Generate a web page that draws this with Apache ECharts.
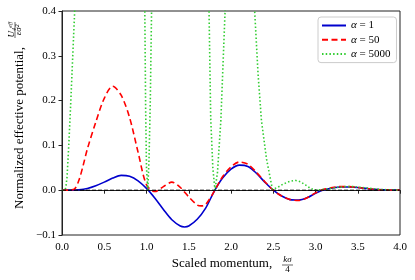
<!DOCTYPE html>
<html>
<head>
<meta charset="utf-8">
<script src="https://cdn.jsdelivr.net/npm/echarts@6/dist/echarts.min.js"></script>
<style>html,body{margin:0;padding:0;background:#fff;}#c{width:415px;height:280px;}</style>
</head>
<body>
<div id="c"></div>
<script>
// ---- data ----
const kAlpha1 = [0,0.1,0.2,0.3,0.4,0.5,0.6,0.7,0.8,0.9,1.0,1.1,1.2,1.3,1.4,1.45,1.5,1.6,1.7,1.8,1.9,2.0,2.1,2.2,2.3,2.4,2.5,2.6,2.7,2.8,2.9,3.0,3.1,3.2,3.3,3.4,3.5,3.6,3.7,3.8,3.9,4.0];
const uAlpha1 = [0,0.0001,0.001,0.004,0.010,0.018,0.027,0.033,0.031,0.021,0.004,-0.018,-0.043,-0.066,-0.080,-0.082,-0.080,-0.065,-0.040,-0.003,0.027,0.047,0.056,0.053,0.038,0.018,0.000,-0.013,-0.021,-0.022,-0.017,-0.007,0.001,0.005,0.007,0.007,0.006,0.004,0.002,0.001,0.0005,0.0003];

const kAlpha50 = [0,0.1,0.15,0.2,0.25,0.3,0.4,0.5,0.6,0.7,0.8,0.9,1.0,1.1,1.2,1.3,1.4,1.5,1.6,1.65,1.7,1.8,1.9,2.0,2.1,2.2,2.3,2.4,2.5,2.6,2.7,2.8,2.9,3.0,3.1,3.2,3.3,3.4,3.5,3.6,3.7,3.8,3.9,4.0];
const uAlpha50 = [0,0.0005,0.003,0.022,0.055,0.092,0.152,0.205,0.232,0.212,0.162,0.085,0.012,-0.003,0.008,0.018,0.006,-0.015,-0.033,-0.035,-0.032,-0.003,0.030,0.052,0.063,0.058,0.040,0.019,0.000,-0.013,-0.021,-0.023,-0.017,-0.006,0.002,0.006,0.008,0.008,0.006,0.004,0.002,0.001,0.0005,0.0003];

const kAlpha5000 = [0,0.03,0.045,0.06,0.08,0.1,0.125,0.15,0.18,0.25,0.5,0.8,0.9,0.95,0.97,0.98,0.99,1.0,1.015,1.03,1.045,1.06,1.08,1.12,1.3,1.5,1.65,1.7,1.74,1.76,1.785,1.81,1.84,1.88,1.93,1.96,2.0,2.1,2.2,2.25,2.28,2.32,2.36,2.42,2.49,2.55,2.62,2.7,2.76,2.82,2.88,2.94,2.98,3.05,3.15,3.25,3.35,3.45,3.55,3.65,3.75,3.85,4.0];
const uAlpha5000 = [0,0,0.005,0.03,0.1,0.18,0.29,0.40,0.58,1.2,2.0,1.8,1.2,0.8,0.55,0.4,0.18,0.05,0.0,0.07,0.2,0.4,0.68,1.2,2.0,1.8,1.1,0.8,0.4,0.16,0.05,0.0,0.04,0.156,0.4,0.58,0.85,1.2,0.9,0.6,0.4,0.26,0.156,0.07,0.002,0.006,0.014,0.02,0.022,0.019,0.012,0.004,0.001,0.001,0.003,0.006,0.008,0.008,0.006,0.004,0.002,0.001,0.0003];

const zeroLineK = [0, 4];
const zeroLineU = [0, 0];

const seriesNames = ['\u03b1 = 1', '\u03b1 = 50', '\u03b1 = 5000'];
const xTicks = [0, 0.5, 1.0, 1.5, 2.0, 2.5, 3.0, 3.5, 4.0];
const yTicks = [-0.1, 0.0, 0.1, 0.2, 0.3, 0.4];

// ---- chart ----
const FONT = '"Liberation Serif", "Times New Roman", serif';
const pairs = (ks, us) => ks.map((k, i) => [k, us[i]]);
const chart = echarts.init(document.getElementById('c'), null, {renderer: 'canvas'});
const axisColor = '#222';

chart.setOption({
  animation: false,
  backgroundColor: '#fff',
  grid: {left: 62, right: 15, top: 11, bottom: 45, show: true, borderColor: axisColor, borderWidth: 1, backgroundColor: 'transparent'},
  xAxis: {
    type: 'value', min: xTicks[0], max: xTicks[xTicks.length - 1], interval: xTicks[1] - xTicks[0],
    axisLine: {show: true, lineStyle: {color: axisColor, width: 1}},
    axisTick: {show: true, length: 3.5, lineStyle: {color: axisColor}},
    axisLabel: {fontFamily: FONT, fontSize: 11, color: '#000', margin: 7, formatter: v => v.toFixed(1)},
    splitLine: {show: false}
  },
  yAxis: {
    type: 'value', min: yTicks[0], max: yTicks[yTicks.length - 1], interval: 0.1,
    axisLine: {show: true, lineStyle: {color: axisColor, width: 1}},
    axisTick: {show: true, length: 3.5, lineStyle: {color: axisColor}},
    axisLabel: {fontFamily: FONT, fontSize: 11, color: '#000', margin: 6,
      formatter: v => Math.abs(v) < 1e-9 ? '0.0' : (v < 0 ? '\u2212' : '') + Math.abs(v).toFixed(1)},
    splitLine: {show: false}
  },
  legend: {
    data: seriesNames,
    orient: 'vertical', left: 318, top: 17,
    padding: [3, 6, 3, 3],
    itemWidth: 24, itemHeight: 11, itemGap: 3.3,
    itemStyle: {opacity: 0},
    borderColor: '#cccccc', borderWidth: 1, borderRadius: 3, backgroundColor: '#fff',
    textStyle: {fontFamily: FONT, fontSize: 11, color: '#000', rich: {i: {fontStyle: 'italic', fontFamily: FONT, fontSize: 11}}},
    formatter: n => '{i|\u03b1}' + n.slice(1)
  },
  series: [
    {name: seriesNames[0], type: 'line', data: pairs(kAlpha1, uAlpha1), showSymbol: false, symbol: 'none', smooth: 0.3, clip: true,
     lineStyle: {color: '#0000cd', width: 1.6}, itemStyle: {color: '#0000cd'}, z: 3},
    {name: seriesNames[1], type: 'line', data: pairs(kAlpha50, uAlpha50), showSymbol: false, symbol: 'none', smooth: 0.3, clip: true,
     lineStyle: {color: '#ff0000', width: 1.6, type: [6, 3.5]}, itemStyle: {color: '#ff0000'}, z: 4},
    {name: seriesNames[2], type: 'line', data: pairs(kAlpha5000, uAlpha5000), showSymbol: false, symbol: 'none', smooth: false, clip: true,
     lineStyle: {color: '#32cd32', width: 1.6, type: [1.5, 2.2]}, itemStyle: {color: '#32cd32'}, z: 5},
    {name: 'zero', type: 'line', data: pairs(zeroLineK, zeroLineU), showSymbol: false, symbol: 'none', clip: true,
     lineStyle: {color: '#000', width: 1, type: [4, 2]}, z: 6, silent: true}
  ],
  graphic: [
    {type: 'text', x: 20, y: 128, rotation: Math.PI / 2,
     style: {text: 'Normalized effective potential,', fontFamily: FONT, fontSize: 13, fill: '#000', align: 'center', verticalAlign: 'middle'}},
    {type: 'text', x: 12, y: 30, rotation: Math.PI / 2,
     style: {text: 'U\u2084\u1d49\u1da0\u1da0', fontFamily: FONT, fontStyle: 'italic', fontSize: 9, fill: '#000', align: 'center', verticalAlign: 'middle'}},
    {type: 'line', shape: {x1: 15, y1: 22, x2: 15, y2: 38}, style: {stroke: '#000', lineWidth: 0.6}},
    {type: 'text', x: 19, y: 30, rotation: Math.PI / 2,
     style: {text: '\u03b5\u03c3\u00b2', fontFamily: FONT, fontStyle: 'italic', fontSize: 9, fill: '#000', align: 'center', verticalAlign: 'middle'}},
    {type: 'text', x: 222, y: 264,
     style: {text: 'Scaled momentum,', fontFamily: FONT, fontSize: 13, fill: '#000', align: 'center', verticalAlign: 'middle'}},
    {type: 'text', x: 287.5, y: 259.5,
     style: {text: 'k\u03c3', fontFamily: FONT, fontStyle: 'italic', fontSize: 9, fill: '#000', align: 'center', verticalAlign: 'middle'}},
    {type: 'line', shape: {x1: 282, y1: 265, x2: 293, y2: 265}, style: {stroke: '#000', lineWidth: 0.6}},
    {type: 'text', x: 287.5, y: 270,
     style: {text: '4', fontFamily: FONT, fontSize: 9, fill: '#000', align: 'center', verticalAlign: 'middle'}}
  ]
});
</script>
</body>
</html>
